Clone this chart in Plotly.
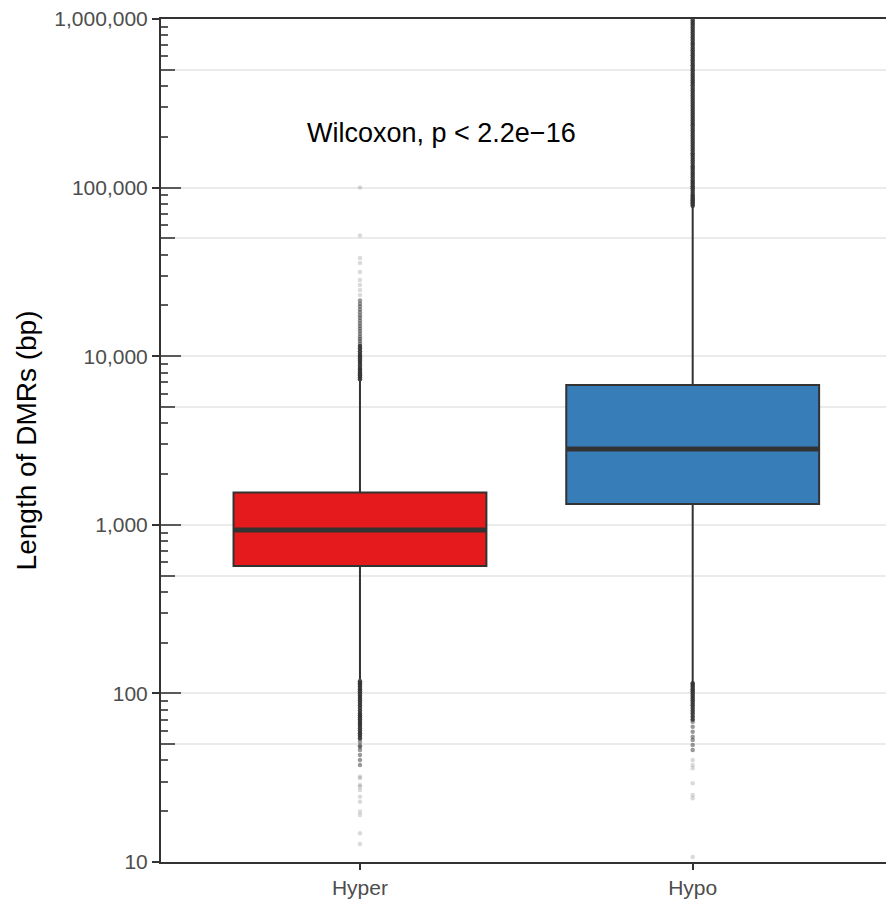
import plotly.graph_objects as go

# ---- data -------------------------------------------------------------
categories = ["Hyper", "Hypo"]
box_colors = ["#E41A1C", "#377EB8"]

# box statistics (bp)
q1 = [570, 1330]
median = [931, 2815]
q3 = [1555, 6750]
lower_fence = [121, 116]
upper_fence = [7200, 77200]

# outlying DMR lengths, grouped by how heavily they overlap
hyper_out_dense = [7300, 7500, 7700, 7900, 8100, 8300, 8500, 8800, 9100, 9400,
                   9700, 10000, 10300, 10700, 11100, 11500,
                   118, 115, 112, 109, 106, 103, 100, 97, 94, 91, 88, 85, 82,
                   79, 76, 74, 72, 70, 68, 66, 64, 62, 60, 58, 56, 54]
hyper_out_mid = [11900, 12300, 12700, 13100, 13600, 14100, 14600, 15100, 15700,
                 16300, 16900, 17500, 18200, 18900, 19700, 20500, 21400,
                 51.5, 49, 48.3, 46.2, 43.1, 40.3, 37.6]
hyper_out_sparse = [23100, 24700, 26400, 28300, 31600, 35700, 38200, 52000, 100000,
                    32.1, 31.4, 28.6, 28.0, 26.7, 24.4, 22.8, 19.9, 19.0, 14.8, 12.8]

hypo_out_dense = [78000, 80000, 82000, 84000, 86000, 88000, 90000, 93000, 96000,
                  99000, 102000, 105000, 108000, 111000, 115000, 119000, 123000,
                  127000, 131000, 135000, 140000, 145000, 150000, 155000, 160000,
                  166000, 172000, 178000, 184000, 190000, 197000, 204000, 211000,
                  218000, 226000, 234000, 242000, 250000, 259000, 268000, 277000,
                  287000, 297000, 307000, 318000, 329000, 340000, 352000, 364000,
                  377000, 390000, 404000, 418000, 432000, 447000, 463000, 479000,
                  496000, 513000, 531000, 550000, 569000, 589000, 610000, 631000,
                  653000, 676000, 700000, 724000, 750000, 776000, 803000, 831000,
                  860000, 890000, 920000, 950000, 980000,
                  115, 112, 109, 106, 103, 100, 97, 94, 91, 88, 85, 82, 79, 76, 73, 70]
hypo_out_mid = [67.9, 63.4, 59.3, 55.3, 52.9, 49.4, 46.2]
hypo_out_sparse = [40.3, 37.6, 36.0, 29.3, 25.0, 23.9, 10.7]

outliers = [
    (hyper_out_dense, hyper_out_mid, hyper_out_sparse),
    (hypo_out_dense, hypo_out_mid, hypo_out_sparse),
]

# axis ticks
major_vals = [10, 100, 1000, 10000, 100000, 1000000]
major_labels = ["10", "100", "1,000", "10,000", "100,000", "1,000,000"]
mid_vals = [50, 500, 5000, 50000, 500000]
short_vals = [m * 10 ** k for k in range(1, 6) for m in (2, 3, 4, 6, 7, 8, 9)]

annotation_text = "Wilcoxon, p < 2.2e\u221216"
y_title = "Length of DMRs (bp)"

# ---- figure -----------------------------------------------------------
FONT = "Liberation Sans, Arial, Helvetica, sans-serif"
DARK = "#333333"
BOX_WIDTH = 0.76

fig = go.Figure()

for i, name in enumerate(categories):
    fig.add_trace(go.Box(
        x=[i], q1=[q1[i]], median=[median[i]], q3=[q3[i]],
        lowerfence=[lower_fence[i]], upperfence=[upper_fence[i]],
        width=BOX_WIDTH, whiskerwidth=0, boxpoints=False,
        fillcolor=box_colors[i], line=dict(color=DARK, width=2),
        name=name, hoverinfo="skip",
    ))
    # thicker median bar
    fig.add_trace(go.Scatter(
        x=[i - BOX_WIDTH / 2, i + BOX_WIDTH / 2], y=[median[i], median[i]],
        mode="lines", line=dict(color=DARK, width=5), hoverinfo="skip",
    ))

for i, (dense, mid, sparse) in enumerate(outliers):
    for vals, alpha in ((sparse, 0.18), (mid, 0.5), (dense, 0.9)):
        fig.add_trace(go.Scatter(
            x=[i] * len(vals), y=vals, mode="markers",
            marker=dict(color=DARK, size=4.5, opacity=alpha, line=dict(width=0)),
            hoverinfo="skip",
        ))

# empty traces so the log-tick overlay axes are drawn
for ax in ("y2", "y3", "y4"):
    fig.add_trace(go.Scatter(x=[], y=[], yaxis=ax, hoverinfo="skip"))

tickfont = dict(family=FONT, size=21, color="#4d4d4d")
log_overlay = dict(overlaying="y", anchor="x", side="left", type="log",
                   range=[1, 6], ticks="inside", tickwidth=1.5,
                   tickcolor="#5a5a5a", showticklabels=False, showgrid=False,
                   showline=False, zeroline=False)

fig.update_layout(
    width=886, height=901,
    margin=dict(l=161, r=0, t=19, b=39),
    plot_bgcolor="white", paper_bgcolor="white",
    showlegend=False, boxmode="overlay",
    font=dict(family=FONT),
    xaxis=dict(
        range=[-0.598, 1.581], tickvals=[0, 1], ticktext=categories,
        ticks="outside", ticklen=6, tickwidth=2, tickcolor=DARK,
        showline=True, linecolor=DARK, linewidth=2, mirror=True,
        showgrid=False, zeroline=False, tickfont=tickfont,
    ),
    yaxis=dict(
        type="log", range=[1, 6], tickvals=major_vals, ticktext=major_labels,
        ticks="outside", ticklen=7, tickwidth=2, tickcolor=DARK,
        showline=True, linecolor=DARK, linewidth=2,
        showgrid=True, gridcolor="#ebebeb", gridwidth=1.5,
        minor=dict(tickvals=mid_vals, showgrid=True, gridcolor="#ebebeb",
                   gridwidth=1.5, ticks=""),
        zeroline=False, tickfont=tickfont,
    ),
    yaxis2=dict(log_overlay, tickvals=major_vals, ticklen=20),
    yaxis3=dict(log_overlay, tickvals=mid_vals, ticklen=14),
    yaxis4=dict(log_overlay, tickvals=short_vals, ticklen=7),
    annotations=[
        dict(text=annotation_text, xref="paper", yref="paper", x=0.387, y=0.865,
             xanchor="center", yanchor="middle", showarrow=False,
             font=dict(family=FONT, size=27, color="black")),
        dict(text=y_title, xref="paper", yref="paper", x=-0.185, y=0.5,
             xanchor="center", yanchor="middle", textangle=-90, showarrow=False,
             font=dict(family=FONT, size=28, color="black")),
    ],
)

fig.write_html("out.html")
